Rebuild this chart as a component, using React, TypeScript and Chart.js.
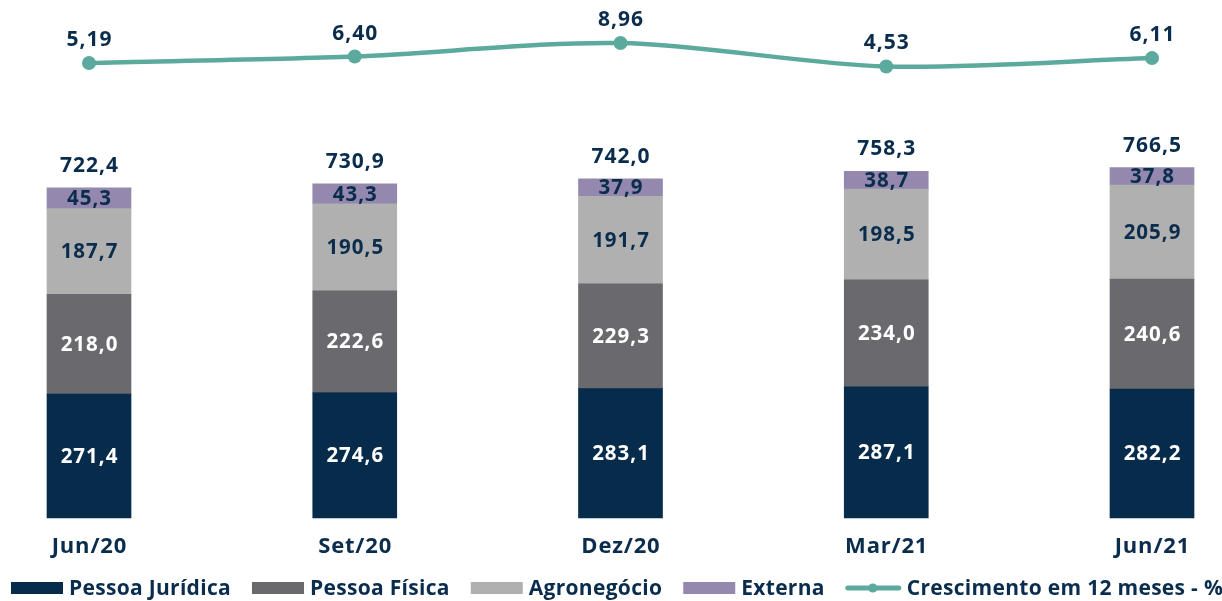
import React, { useEffect, useRef } from "react";
import { Chart, registerables } from "chart.js";

Chart.register(...registerables);

const categories = ["Jun/20", "Set/20", "Dez/20", "Mar/21", "Jun/21"];
const pessoaJuridica = [271.4, 274.6, 283.1, 287.1, 282.2];
const pessoaFisica = [218.0, 222.6, 229.3, 234.0, 240.6];
const agronegocio = [187.7, 190.5, 191.7, 198.5, 205.9];
const externa = [45.3, 43.3, 37.9, 38.7, 37.8];
const totals = [722.4, 730.9, 742.0, 758.3, 766.5];
const crescimento = [5.19, 6.4, 8.96, 4.53, 6.11];

const NAVY = "#0A2C4D";
const BAR_NAVY = "#072B4B";
const GREY_DARK = "#6A696E";
const GREY_LIGHT = "#B0B0B0";
const PURPLE = "#9488AE";
const TEAL = "#5CAA9E";
const FONT = "'Open Sans', sans-serif";

const fmt = (v: number, d: number) => v.toFixed(d).replace(".", ",");

function drawText(ctx: any, text: string, x: number, y: number, spacing: number) {
  ctx.letterSpacing = `${spacing}px`;
  ctx.fillText(text, x + spacing / 2, y);
  ctx.letterSpacing = "0px";
}

const labelsPlugin = {
  id: "customLabels",
  afterDatasetsDraw(chart: any) {
    const ctx = chart.ctx;
    ctx.save();
    ctx.textAlign = "center";
    ctx.textBaseline = "middle";
    ctx.font = `700 20.5px ${FONT}`;
    const segColors = ["#FFFFFF", "#FFFFFF", NAVY, NAVY];
    for (let d = 0; d < 4; d++) {
      const meta = chart.getDatasetMeta(d);
      meta.data.forEach((bar: any, i: number) => {
        const v = chart.data.datasets[d].data[i];
        const y = (bar.y + bar.base) / 2;
        ctx.fillStyle = segColors[d];
        drawText(ctx, fmt(v, 1), bar.x, y + 1, 1.0);
      });
    }
    ctx.font = `700 21px ${FONT}`;
    const topMeta = chart.getDatasetMeta(3);
    topMeta.data.forEach((bar: any, i: number) => {
      ctx.fillStyle = NAVY;
      drawText(ctx, fmt(totals[i], 1), bar.x, bar.y - 22, 1.0);
    });
    const lineMeta = chart.getDatasetMeta(4);
    lineMeta.data.forEach((pt: any, i: number) => {
      ctx.fillStyle = NAVY;
      drawText(ctx, fmt(crescimento[i], 2), pt.x, pt.y - 23, 1.0);
    });

    ctx.font = `700 22px ${FONT}`;
    const xScale = chart.scales.x;
    categories.forEach((c, i) => {
      ctx.fillStyle = NAVY;
      drawText(ctx, c, xScale.getPixelForValue(i), 547, 0.8);
    });

    const items = [
      { label: "Pessoa Jurídica", color: BAR_NAVY, line: false },
      { label: "Pessoa Física", color: GREY_DARK, line: false },
      { label: "Agronegócio", color: GREY_LIGHT, line: false },
      { label: "Externa", color: PURPLE, line: false },
      { label: "Crescimento em 12 meses - %", color: TEAL, line: true },
    ];
    const ly = 588;
    let x = 11;
    ctx.textAlign = "left";
    ctx.font = `700 21px ${FONT}`;
    items.forEach((it) => {
      let textX;
      if (it.line) {
        ctx.strokeStyle = it.color;
        ctx.lineWidth = 5;
        ctx.lineCap = "round";
        ctx.beginPath();
        ctx.moveTo(x + 2, ly);
        ctx.lineTo(x + 53, ly);
        ctx.stroke();
        ctx.fillStyle = it.color;
        ctx.beginPath();
        ctx.arc(x + 27, ly, 4.5, 0, Math.PI * 2);
        ctx.fill();
        textX = x + 61;
      } else {
        ctx.fillStyle = it.color;
        ctx.fillRect(x, ly - 6, 52, 12);
        textX = x + 58;
      }
      ctx.fillStyle = NAVY;
      ctx.letterSpacing = "0.3px";
      ctx.fillText(it.label, textX, ly + 1);
      const w = ctx.measureText(it.label).width;
      ctx.letterSpacing = "0px";
      x = textX + w + 21;
    });
    ctx.restore();
  },
};

export default function App() {
  const ref = useRef<HTMLCanvasElement | null>(null);
  useEffect(() => {
    document.body.style.margin = "0";
    const canvas = ref.current!;
    const barCommon = {
      type: "bar" as const,
      yAxisID: "y",
      barThickness: 84,
      clip: false as any,
      borderWidth: 0,
      order: 2,
    };
    const chart = new Chart(canvas, {
      type: "bar",
      data: {
        labels: categories,
        datasets: [
          { ...barCommon, label: "Pessoa Jurídica", data: pessoaJuridica, backgroundColor: BAR_NAVY },
          { ...barCommon, label: "Pessoa Física", data: pessoaFisica, backgroundColor: GREY_DARK },
          { ...barCommon, label: "Agronegócio", data: agronegocio, backgroundColor: GREY_LIGHT },
          { ...barCommon, label: "Externa", data: externa, backgroundColor: PURPLE },
          {
            type: "line" as const,
            label: "Crescimento em 12 meses - %",
            data: crescimento,
            yAxisID: "y1",
            borderColor: TEAL,
            backgroundColor: TEAL,
            borderWidth: 4.5,
            pointRadius: 7,
            pointBackgroundColor: TEAL,
            pointBorderWidth: 0,
            tension: 0.3,
            clip: false as any,
            order: 1,
          } as any,
        ],
      },
      options: {
        responsive: false,
        animation: false,
        layout: { padding: { top: 20, left: 89, right: 70, bottom: 83 } },
        plugins: { legend: { display: false }, tooltip: { enabled: false } },
        scales: {
          x: { stacked: true, offset: false, display: false },
          y: { stacked: true, display: false, min: 0, max: 1089.7 },
          y1: { display: false, min: -80.66, max: 13.3 },
        },
      } as any,
      plugins: [labelsPlugin],
    });
    return () => chart.destroy();
  }, []);
  return (
    <div style={{ position: "absolute", left: 0, top: 0, width: 1222, height: 601 }}>
      <canvas ref={ref} width={1222} height={601} style={{ width: 1222, height: 601 }} />
    </div>
  );
}
